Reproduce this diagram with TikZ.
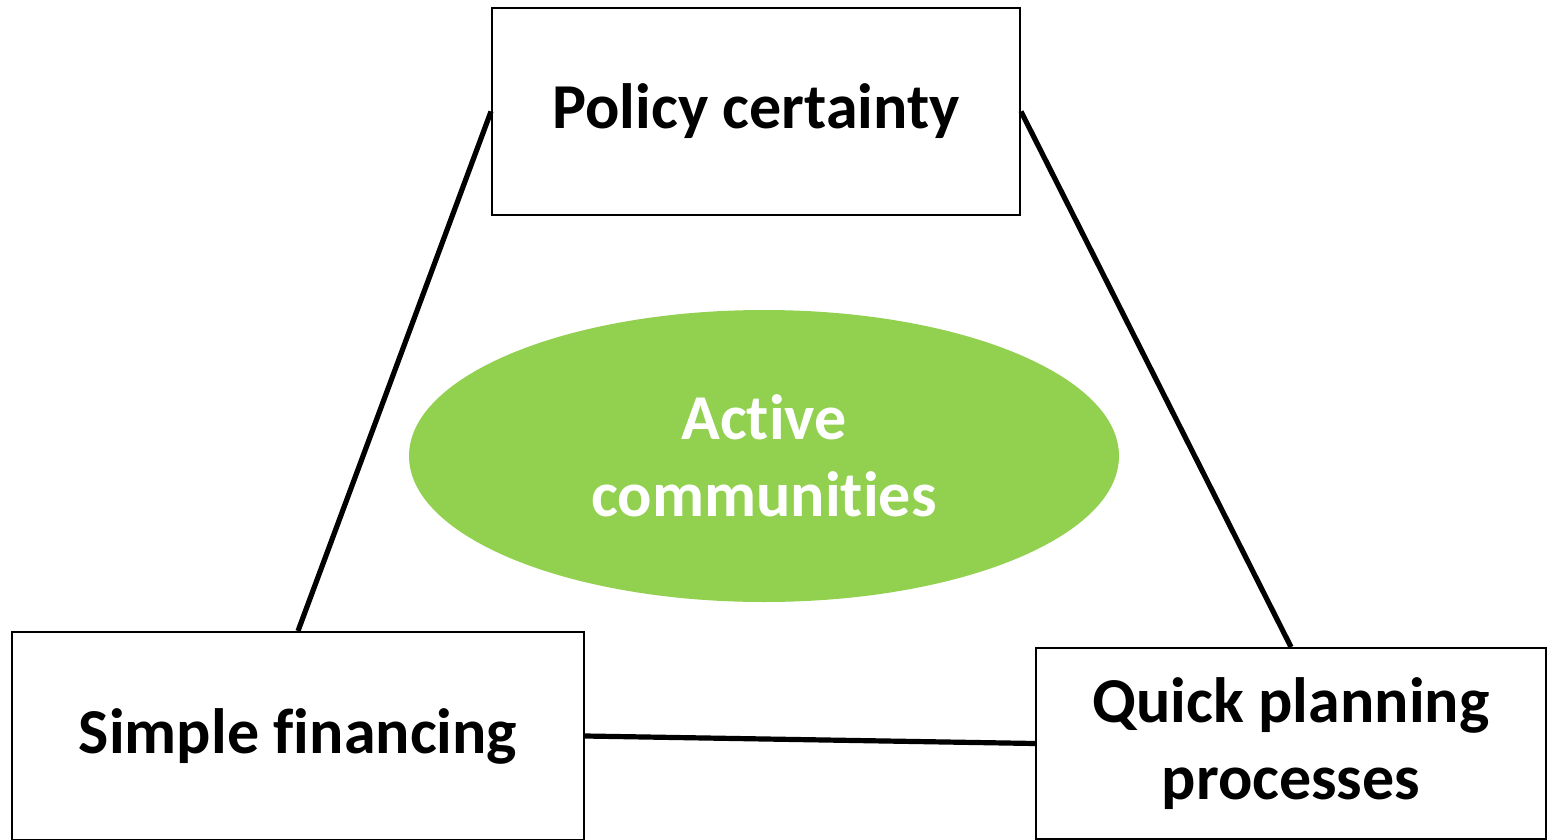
\documentclass[tikz,border=0pt]{standalone}
\usepackage{fontspec}
\setmainfont[Ligatures=NoCommon]{Carlito}
\usetikzlibrary{shapes.geometric}
\definecolor{leaf}{HTML}{92D050}
\begin{document}
\begin{tikzpicture}[x=0.5pt,y=-0.5pt,
  box/.style={draw=black,line width=1pt,fill=white,rectangle,inner sep=0pt,
    align=center,font=\fontsize{32}{38.5}\selectfont\bfseries},
  link/.style={draw=black,line width=2.6pt},
  blob/.style={ellipse,fill=leaf,draw=none,inner sep=0pt,text=white,align=center,
    font=\fontsize{32}{38.5}\selectfont\bfseries}]
\useasboundingbox[fill=white] (0,0) rectangle (1547,840);
\node[blob,minimum width=355pt,minimum height=146pt] (act) at (764,456) {Active\\communities};
\node[box,minimum width=264pt,minimum height=103.5pt] (pol) at (756,111.5) {Policy certainty};
\node[box,minimum width=286pt,minimum height=104pt] (sim) at (298,736) {Simple financing};
\node[box,minimum width=255pt,minimum height=95.5pt] (qui) at (1291,743.5) {\raisebox{0pt}[0pt][0pt]{}Quick planning\\processes};
\draw[link] (pol.west) -- (sim.north);
\draw[link] (pol.east) -- (qui.north);
\draw[link] (sim.east) -- (qui.west);
\end{tikzpicture}
\end{document}
